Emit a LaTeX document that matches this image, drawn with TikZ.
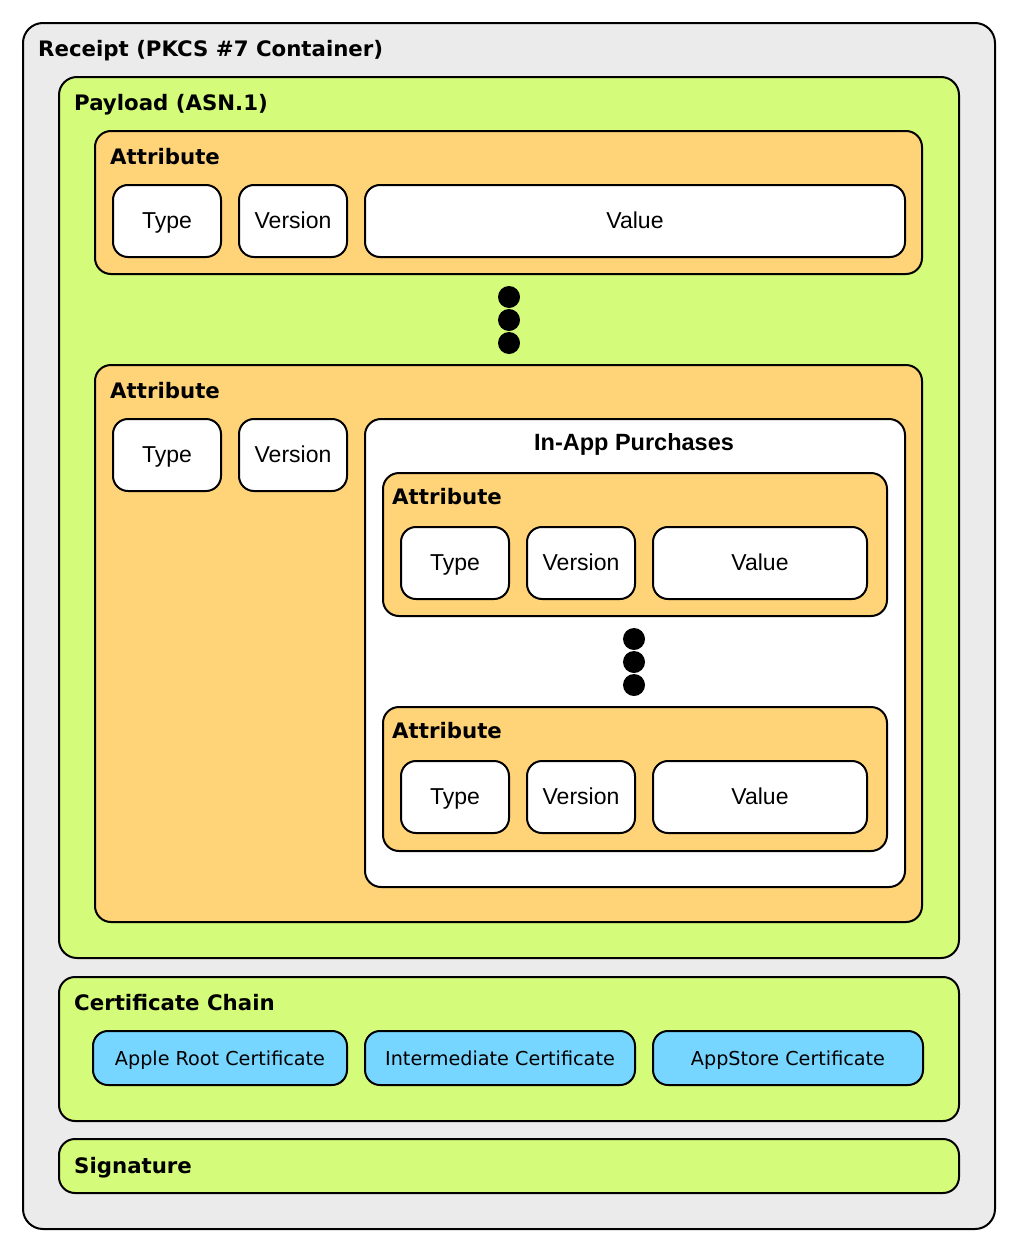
\documentclass[tikz,border=0pt]{standalone}
\usepackage{fontspec}
\setmainfont{Liberation Sans}
\newfontfamily\titlefont{DejaVu Sans}
\definecolor{bggray}{HTML}{EBEBEB}
\definecolor{lime}{HTML}{D4FB79}
\definecolor{melon}{HTML}{FFD479}
\definecolor{sky}{HTML}{76D6FF}
\begin{document}
\begin{tikzpicture}[x=1pt,y=-1pt,
  frame/.style={draw=black, line width=2pt, rounded corners=16pt},
  ttl/.style={anchor=base west, inner sep=0pt, font=\titlefont\bfseries\fontsize{21.3}{24}\selectfont},
  field/.style={draw=black, line width=2pt, rounded corners=15pt, fill=white, inner sep=0pt,
     text height=17pt, text depth=3pt,
     minimum height=72pt, font=\fontsize{23}{26}\selectfont},
  cert/.style={draw=black, line width=2pt, rounded corners=15pt, fill=sky, inner sep=0pt,
     text height=17pt, text depth=3pt,
     minimum height=54pt, font=\titlefont\fontsize{19.2}{22}\selectfont},
  dot/.style={circle, fill=black, inner sep=0pt, minimum size=22pt}]
\useasboundingbox (0,0) rectangle (1016,1250);
% outer receipt
\draw[frame, fill=bggray, rounded corners=20pt] (23,23) rectangle (995,1229);
\node[ttl] (treceipt) at (38,56) {Receipt (PKCS \#7 Container)};
% payload
\draw[frame, fill=lime, rounded corners=18pt] (59,77) rectangle (959,958);
\node[ttl] (tpayload) at (74,110) {Payload (ASN.1)};
% attribute 1
\draw[frame, fill=melon] (95,131) rectangle (922,274);
\node[ttl] (tattr1) at (110,164) {Attribute};
\node[field, minimum width=108pt] (type1) at (167,221) {Type};
\node[field, minimum width=108pt] (ver1) at (293,221) {Version};
\node[field, minimum width=540pt] (val1) at (635,221) {Value};
% dots
\node[dot] (d1) at (509,297) {};
\node[dot] (d2) at (509,320) {};
\node[dot] (d3) at (509,343) {};
% attribute 2
\draw[frame, fill=melon] (95,365) rectangle (922,922);
\node[ttl] (tattr2) at (110,398) {Attribute};
\node[field, minimum width=108pt] (type2) at (167,455) {Type};
\node[field, minimum width=108pt] (ver2) at (293,455) {Version};
% in-app purchases
\draw[frame, fill=white] (365,419) rectangle (905,887);
\node[anchor=base, inner sep=0pt, font=\bfseries\fontsize{23.5}{26}\selectfont] (tiap) at (634,450) {In-App Purchases};
% inner attribute A
\draw[frame, fill=melon] (383,473) rectangle (887,616);
\node[ttl] (tattrA) at (392,504) {Attribute};
\node[field, minimum width=108pt] (typeA) at (455,563) {Type};
\node[field, minimum width=108pt] (verA) at (581,563) {Version};
\node[field, minimum width=214pt] (valA) at (760,563) {Value};
% inner dots
\node[dot] (e1) at (634,639) {};
\node[dot] (e2) at (634,662) {};
\node[dot] (e3) at (634,685) {};
% inner attribute B
\draw[frame, fill=melon] (383,707) rectangle (887,851);
\node[ttl] (tattrB) at (392,738) {Attribute};
\node[field, minimum width=108pt] (typeB) at (455,797) {Type};
\node[field, minimum width=108pt] (verB) at (581,797) {Version};
\node[field, minimum width=214pt] (valB) at (760,797) {Value};
% certificate chain
\draw[frame, fill=lime] (59,977) rectangle (959,1121);
\node[ttl] (tcert) at (74,1010) {Certificate Chain};
\node[cert, minimum width=254pt] (root) at (220,1058) {Apple Root Certificate};
\node[cert, minimum width=270pt] (inter) at (500,1058) {Intermediate Certificate};
\node[cert, minimum width=270pt] (appstore) at (788,1058) {AppStore Certificate};
% signature
\draw[frame, fill=lime] (59,1139) rectangle (959,1193);
\node[ttl] (tsig) at (74,1173) {Signature};
\end{tikzpicture}
\end{document}
